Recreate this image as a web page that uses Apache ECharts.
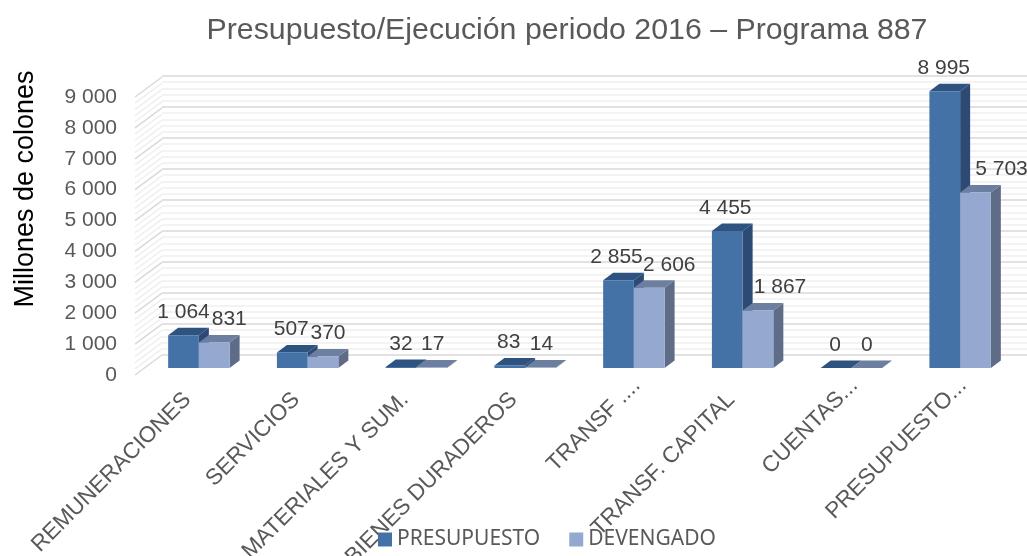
<!DOCTYPE html>
<html>
<head>
<meta charset="utf-8">
<title>Presupuesto/Ejecución</title>
<script src="https://cdn.jsdelivr.net/npm/echarts@6/dist/echarts.min.js"></script>
<style>
    html, body { margin: 0; padding: 0; background: #fff; }
    #chart { width: 1027px; height: 556px; }
</style>
</head>
<body>
<div id="chart"></div>
<script>
    // datos
    var categories = ['REMUNERACIONES', 'SERVICIOS', 'MATERIALES Y SUM.', 'BIENES DURADEROS',
        'TRANSF ....', 'TRANSF. CAPITAL', 'CUENTAS...', 'PRESUPUESTO...'];
    var presupuesto = [1064, 507, 32, 83, 2855, 4455, 0, 8995];
    var devengado = [831, 370, 17, 14, 2606, 1867, 0, 5703];
    var wallTicks = [];
    for (var t = 0; t <= 9000; t += 200) wallTicks.push(t);

    // nudges so the data labels do not collide, as in the original
    var shiftPresupuesto = [0, -1, 0, -1, -2, -2, -1, -1];
    var shiftDevengado = [15, 5, 1, 1, 20, 22, 0, 26];

    var textGrey = '#595959';
    var depthX = 10, depthY = 7.5;

    function fmt(v) {
        return String(v).replace(/\B(?=(\d{3})+$)/g, ' ');
    }

    function barRenderer(side, front, top, dark, shifts) {
        return function (params, api) {
            var i = api.value(0), v = api.value(1);
            var tip = api.coord([i, v]), base = api.coord([i, 0]);
            var w = api.size([1, 0])[0] * 0.2825;
            var x0 = side < 0 ? tip[0] - w : tip[0];
            var x1 = x0 + w, y0 = tip[1], y1 = base[1];
            return {
                type: 'group',
                children: [
                    { type: 'polygon', shape: { points: [[x1, y0], [x1 + depthX, y0 - depthY], [x1 + depthX, y1 - depthY], [x1, y1]] }, style: { fill: dark } },
                    { type: 'polygon', shape: { points: [[x0, y0], [x0 + depthX, y0 - depthY], [x1 + depthX, y0 - depthY], [x1, y0]] }, style: { fill: top } },
                    { type: 'rect', shape: { x: x0, y: y0, width: w, height: y1 - y0 }, style: { fill: front } },
                    { type: 'text', z2: 50, style: { text: fmt(v), x: (x0 + x1) / 2 + shifts[i], y: y0 - 23, align: 'center', verticalAlign: 'middle',
                        fill: '#404040', font: '21px "Liberation Sans", Arial, sans-serif' } }
                ]
            };
        };
    }

    function toPairs(arr) {
        return arr.map(function (v, i) { return [i, v]; });
    }

    var chart = echarts.init(document.getElementById('chart'), null, { renderer: 'canvas' });
    chart.setOption({
        animation: false,
        title: {
            text: 'Presupuesto/Ejecución periodo 2016 – Programa 887',
            left: 562, top: 11, textAlign: 'center',
            textStyle: { color: textGrey, fontSize: 30.3, fontWeight: 'normal', fontFamily: '"Liberation Sans", Arial, sans-serif' }
        },
        graphic: [{
            type: 'text', x: 26, y: 189, rotation: Math.PI / 2,
            style: { text: 'Millones de colones', align: 'center', verticalAlign: 'middle', fill: '#000', font: '27px "Liberation Sans", Arial, sans-serif' }
        }],
        legend: {
            data: [
                { name: 'PRESUPUESTO', itemStyle: { color: '#4472A6', borderWidth: 0 } },
                { name: 'DEVENGADO', itemStyle: { color: '#95A9D0', borderWidth: 0 } }
            ],
            left: 373, top: 524, itemWidth: 14, itemHeight: 14, itemGap: 29, icon: 'rect',
            textStyle: { color: textGrey, fontSize: 21, fontFamily: '"Noto Sans", sans-serif' }
        },
        grid: [
            // back wall
            { left: 162, width: 865, top: 76, height: 279, outerBoundsMode: 'none' },
            // front edge of the side wall, carries the value labels
            { left: 135, width: 870, top: 97, height: 278, outerBoundsMode: 'none' },
            // plane of the bars
            { left: 144.5, width: 870, top: 91, height: 277, outerBoundsMode: 'none' }
        ],
        xAxis: [
            { gridIndex: 0, type: 'value', min: 0, max: 1, show: false },
            { gridIndex: 1, type: 'value', min: 0, max: 1, show: false },
            {
                gridIndex: 2, type: 'category',
                // the cut off labels sit further up the slope in the original
                data: categories.map(function (c) {
                    return /\.\.\.$/.test(c) ? { value: c, textStyle: { padding: [0, -4, 0, 0] } } : c;
                }),
                axisLine: { show: false }, axisTick: { show: false },
                axisLabel: {
                    interval: 0, rotate: 45, margin: 17, color: textGrey, fontSize: 22.5,
                    align: 'right', verticalAlign: 'middle', padding: [0, 16, 0, 0],
                    fontFamily: '"Liberation Sans", Arial, sans-serif'
                }
            }
        ],
        yAxis: [
            {
                gridIndex: 0, type: 'value', min: 0, max: 9000, interval: 1000,
                axisLine: { show: false }, axisTick: { show: false }, axisLabel: { show: false },
                splitLine: { show: true, lineStyle: { color: '#D9D9D9', width: 1.5 } },
                minorTick: { show: false, splitNumber: 5 },
                minorSplitLine: { show: true, lineStyle: { color: '#EFEFEF', width: 1.5 } }
            },
            {
                gridIndex: 1, type: 'value', min: 0, max: 9000, interval: 1000,
                axisLine: { show: false }, axisTick: { show: false }, splitLine: { show: false },
                axisLabel: { color: textGrey, fontSize: 21, margin: 18, formatter: fmt, fontFamily: '"Liberation Sans", Arial, sans-serif' }
            },
            { gridIndex: 2, type: 'value', min: 0, max: 9000, show: false }
        ],
        series: [
            {
                // slanted lines of the side wall
                type: 'custom', xAxisIndex: 1, yAxisIndex: 1, z: 1, silent: true, clip: false,
                data: wallTicks.map(function (v) { return [0, v]; }),
                renderItem: function (params, api) {
                    var p = api.coord([0, api.value(1)]);
                    var major = api.value(1) % 1000 === 0;
                    return {
                        type: 'line',
                        shape: { x1: p[0], y1: p[1], x2: p[0] + 27, y2: p[1] - 20 },
                        style: { stroke: major ? '#D9D9D9' : '#EFEFEF', lineWidth: 1.5 }
                    };
                }
            },
            {
                name: 'PRESUPUESTO', type: 'custom', xAxisIndex: 2, yAxisIndex: 2, z: 3, clip: false,
                data: toPairs(presupuesto),
                itemStyle: { color: '#4472A6' },
                renderItem: barRenderer(-1, '#4472A6', '#2F5380', '#2C4A73', shiftPresupuesto)
            },
            {
                name: 'DEVENGADO', type: 'custom', xAxisIndex: 2, yAxisIndex: 2, z: 3, clip: false,
                data: toPairs(devengado),
                itemStyle: { color: '#95A9D0' },
                renderItem: barRenderer(1, '#95A9D0', '#6C7FA0', '#5E6C88', shiftDevengado)
            }
        ]
    });
</script>
</body>
</html>
